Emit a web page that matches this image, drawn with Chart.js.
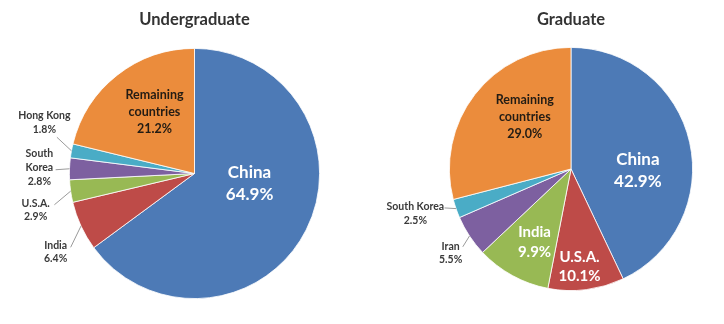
<!DOCTYPE html>
<html><head><meta charset="utf-8">
<script src="https://cdn.jsdelivr.net/npm/chart.js@4/dist/chart.umd.min.js"></script>
<style>
html,body{margin:0;padding:0;background:#fff;width:724px;height:324px;overflow:hidden}
.w{position:absolute;top:0;width:362px;height:324px}
</style></head><body>
<div class="w" style="left:0"><canvas id="c1"></canvas></div>
<div class="w" style="left:362px"><canvas id="c2"></canvas></div>
<script>
// ---- data ----
const ugTitle = "Undergraduate";
const ugCategories = ["China", "India", "U.S.A.", "South Korea", "Hong Kong", "Remaining countries"];
const ugValues = [64.9, 6.4, 2.9, 2.8, 1.8, 21.2];

const gradTitle = "Graduate";
const gradCategories = ["China", "U.S.A.", "India", "Iran", "South Korea", "Remaining countries"];
const gradValues = [42.9, 10.1, 9.9, 5.5, 2.5, 29.0];

// ---- styles ----
const ugColors = ["#4D7AB6", "#BE4B48", "#98B954", "#7D60A0", "#4AACC6", "#EB8C3C"];
const gradColors = ["#4D7AB6", "#BE4B48", "#98B954", "#7D60A0", "#4AACC6", "#EB8C3C"];
const FONT = "Lato, 'Open Sans', sans-serif";

// label layout, in units of the pie radius relative to the pie centre
const ugLabelStyle = [
  {wrap: ["China"], ux: 0.44, uy: 0.08, size: 17, lh: 22, color: "#ffffff"},
  {wrap: ["India"], ux: -1.11, uy: 0.63, size: 10.5, lh: 13, color: "#3a3a3a", lead: [-0.99, 0.59]},
  {wrap: ["U.S.A."], ux: -1.27, uy: 0.29, size: 10.5, lh: 13, color: "#3a3a3a", lead: [-1.12, 0.25]},
  {wrap: ["South", "Korea"], ux: -1.24, uy: -0.05, size: 10.5, lh: 14, color: "#3a3a3a", lead: [-1.11, -0.03]},
  {wrap: ["Hong Kong"], ux: -1.20, uy: -0.41, size: 10.5, lh: 14, color: "#3a3a3a", lead: [-1.10, -0.29]},
  {wrap: ["Remaining", "countries"], ux: -0.32, uy: -0.49, size: 12.5, lh: 17, color: "#231c14"}
];
const gradLabelStyle = [
  {wrap: ["China"], ux: 0.55, uy: 0.01, size: 17, lh: 22, color: "#ffffff"},
  {wrap: ["U.S.A."], ux: 0.07, uy: 0.80, size: 15, lh: 19, color: "#ffffff"},
  {wrap: ["India"], ux: -0.30, uy: 0.60, size: 15, lh: 20, color: "#ffffff"},
  {wrap: ["Iran"], ux: -0.99, uy: 0.69, size: 10.5, lh: 13, color: "#3a3a3a", lead: [-0.89, 0.64]},
  {wrap: ["South Korea"], ux: -1.28, uy: 0.37, size: 10.5, lh: 14, color: "#3a3a3a", lead: [-1.04, 0.32]},
  {wrap: ["Remaining", "countries"], ux: -0.38, uy: -0.43, size: 12.5, lh: 17, color: "#231c14"}
];

const sliceLabels = {
  id: "sliceLabels",
  afterDatasetsDraw(chart, args, opts) {
    const ctx = chart.ctx;
    const meta = chart.getDatasetMeta(0);
    const vals = chart.data.datasets[0].data;
    meta.data.forEach((arc, i) => {
      const st = opts.styles[i];
      const R = arc.outerRadius, cx = arc.x, cy = arc.y;
      const lines = st.wrap.concat([vals[i].toFixed(1) + "%"]);
      const x = cx + st.ux * R, y = cy + st.uy * R;
      ctx.save();
      if (st.lead) {
        const mid = (arc.startAngle + arc.endAngle) / 2;
        ctx.strokeStyle = "#9a9a9a";
        ctx.lineWidth = 1;
        ctx.beginPath();
        ctx.moveTo(cx + st.lead[0] * R, cy + st.lead[1] * R);
        ctx.lineTo(cx + Math.cos(mid) * R, cy + Math.sin(mid) * R);
        ctx.stroke();
      }
      ctx.fillStyle = st.color;
      ctx.font = "bold " + st.size + "px " + FONT;
      ctx.textAlign = "center";
      ctx.textBaseline = "middle";
      const y0 = y - (lines.length - 1) * st.lh / 2;
      lines.forEach((t, k) => ctx.fillText(t, x, y0 + k * st.lh));
      ctx.restore();
    });
  }
};

function makePie(id, title, labels, values, colors, styles, pad) {
  const cv = document.getElementById(id);
  cv.width = 362; cv.height = 324;
  return new Chart(cv, {
    type: "pie",
    data: {labels: labels, datasets: [{data: values, backgroundColor: colors, borderColor: "#ffffff", borderWidth: 0.8}]},
    plugins: [sliceLabels],
    options: {
      responsive: false,
      animation: false,
      events: [],
      layout: {padding: {left: pad.left, right: pad.right, top: 0, bottom: pad.bottom}},
      plugins: {
        legend: {display: false},
        tooltip: {enabled: false},
        title: {display: true, text: title, color: "#333333",
          font: {family: FONT, size: 16.5, weight: "bold", lineHeight: 1.2},
          padding: {top: 10, bottom: pad.titleBottom}},
        sliceLabels: {styles: styles}
      }
    }
  });
}
makePie("c1", ugTitle, ugCategories, ugValues, ugColors, ugLabelStyle, {left: 69, right: 42, bottom: 25, titleBottom: 18.2});
makePie("c2", gradTitle, gradCategories, gradValues, gradColors, gradLabelStyle, {left: 87, right: 31, bottom: 33, titleBottom: 17.2});
</script>
</body></html>
